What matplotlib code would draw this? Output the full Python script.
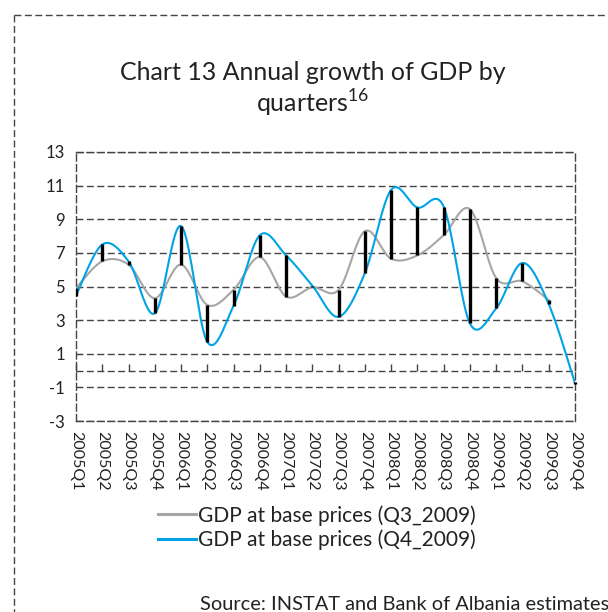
import numpy as np
import matplotlib
matplotlib.use("Agg")
import matplotlib.pyplot as plt
from matplotlib.lines import Line2D
from matplotlib.markers import TICKUP

categories = ["2005Q1", "2005Q2", "2005Q3", "2005Q4",
              "2006Q1", "2006Q2", "2006Q3", "2006Q4",
              "2007Q1", "2007Q2", "2007Q3", "2007Q4",
              "2008Q1", "2008Q2", "2008Q3", "2008Q4",
              "2009Q1", "2009Q2", "2009Q3", "2009Q4"]
gdp_q3_2009 = [4.9, 6.5, 6.3, 4.3, 6.3, 3.9, 4.8, 6.75, 4.4, 4.95,
               4.8, 8.3, 6.65, 6.85, 8.05, 9.6, 5.5, 5.3, 4.2, np.nan]
gdp_q4_2009 = [4.45, 7.5, 6.5, 3.4, 8.6, 1.7, 3.85, 8.05, 6.85, 5.05,
               3.2, 5.8, 10.75, 9.7, 9.75, 2.8, 3.7, 6.4, 3.95, -0.75]
yticks = [13, 11, 9, 7, 5, 3, 1, -1, -3]
series_names = ["GDP at base prices (Q3_2009)", "GDP at base prices (Q4_2009)"]

FONT = "Lato"
plt.rcParams["font.family"] = [FONT, "DejaVu Sans"]
plt.rcParams["mathtext.fontset"] = "custom"
plt.rcParams["mathtext.rm"] = FONT

GRAY = "#a6a6a6"
BLUE = "#00a3e6"
DASH = (0, (5, 2.5))
GRIDC = "#444444"


def smooth(xs, ys, n=20):
    """Excel-like smoothed line (Catmull-Rom Bezier) through the points."""
    xs = np.asarray(xs, float)
    ys = np.asarray(ys, float)
    pts = np.column_stack([xs, ys])
    out = []
    m = len(pts)
    for i in range(m - 1):
        p0 = pts[i - 1] if i > 0 else pts[i]
        p1 = pts[i]
        p2 = pts[i + 1]
        p3 = pts[i + 2] if i + 2 < m else pts[i + 1]
        c1 = p1 + (p2 - p0) / 6.0
        c2 = p2 - (p3 - p1) / 6.0
        t = np.linspace(0, 1, n, endpoint=(i == m - 2))[:, None]
        seg = ((1 - t) ** 3) * p1 + 3 * ((1 - t) ** 2) * t * c1 + 3 * (1 - t) * t ** 2 * c2 + t ** 3 * p2
        out.append(seg)
    out = np.vstack(out)
    return out[:, 0], out[:, 1]


fig = plt.figure(figsize=(6.08, 6.12), dpi=100)
ax = fig.add_axes([76 / 608, 1 - 421 / 612, (575 - 76) / 608, (421 - 152) / 612])

x = np.arange(len(categories))
g = np.array(gdp_q3_2009, float)
b = np.array(gdp_q4_2009, float)

ax.set_xlim(0, len(categories) - 1)
ax.set_ylim(-3, 13)

# grid lines
for yv in yticks:
    ax.axhline(yv, color=GRIDC, lw=1.0, ls=DASH, zorder=1)
# zero axis with upward ticks
ax.axhline(0, color=GRIDC, lw=1.0, ls=DASH, zorder=1)
ax.plot(x, np.zeros_like(x, dtype=float), ls="none", marker=TICKUP, ms=5,
        mew=1.0, color=GRIDC, zorder=1, clip_on=False)

# smoothed lines
gm = ~np.isnan(g)
gx, gy = smooth(x[gm], g[gm])
ax.plot(gx, gy, color=GRAY, lw=1.5, zorder=2, solid_capstyle="round")
bx, by = smooth(x, b)
ax.plot(bx, by, color=BLUE, lw=1.5, zorder=3, solid_capstyle="round")

# high-low lines
for xi, gv, bv in zip(x, g, b):
    if np.isnan(gv):
        ax.plot([xi, xi], [bv - 0.06, bv + 0.06], color="black", lw=2.4,
                zorder=4, solid_capstyle="butt", clip_on=False)
    else:
        ax.plot([xi, xi], [min(gv, bv), max(gv, bv)], color="black", lw=2.4,
                zorder=4, solid_capstyle="butt")

for s in ax.spines.values():
    s.set_linestyle(DASH)
    s.set_color(GRIDC)
    s.set_linewidth(1.0)

ax.set_yticks(yticks)
ax.set_yticklabels([str(v) for v in yticks])
ax.set_xticks(x)
ax.set_xticklabels(categories, rotation=-90, va="top", ha="center")
ax.tick_params(axis="x", length=0, pad=7, labelsize=11.5, colors="#222222")
ax.tick_params(axis="y", length=4, direction="in", pad=8, labelsize=12,
               colors="#222222", color=GRIDC)

# title
fig.text(313 / 608, 1 - 73 / 612, "Chart 13 Annual growth of GDP by",
         ha="center", va="center", fontsize=18, color="#222222")
fig.text(313 / 608, 1 - 103 / 612, r"quarters$^{\mathregular{16}}$",
         ha="center", va="center", fontsize=18, color="#222222")

# legend
handles = [Line2D([], [], color=GRAY, lw=2.2), Line2D([], [], color=BLUE, lw=2.2)]
fig.legend(handles, series_names, loc="upper left",
           bbox_to_anchor=(158 / 608, 1 - 505 / 612), frameon=False,
           fontsize=15, handlelength=1.8, handletextpad=0.1,
           labelspacing=0.2, borderpad=0, borderaxespad=0,
           labelcolor="#222222")

fig.text(200 / 608, 1 - 604 / 612, "Source: INSTAT and Bank of Albania estimates",
         ha="left", va="center", fontsize=14.4, color="#222222")

# outer dashed frame
fig.add_artist(Line2D([14 / 608, 1.0], [1 - 15 / 612, 1 - 15 / 612],
                      transform=fig.transFigure, color=GRIDC, lw=1.0, ls=DASH))
fig.add_artist(Line2D([14 / 608, 14 / 608], [1 - 15 / 612, 0.0],
                      transform=fig.transFigure, color=GRIDC, lw=1.0, ls=DASH))

fig.savefig("out.png", dpi=100)
